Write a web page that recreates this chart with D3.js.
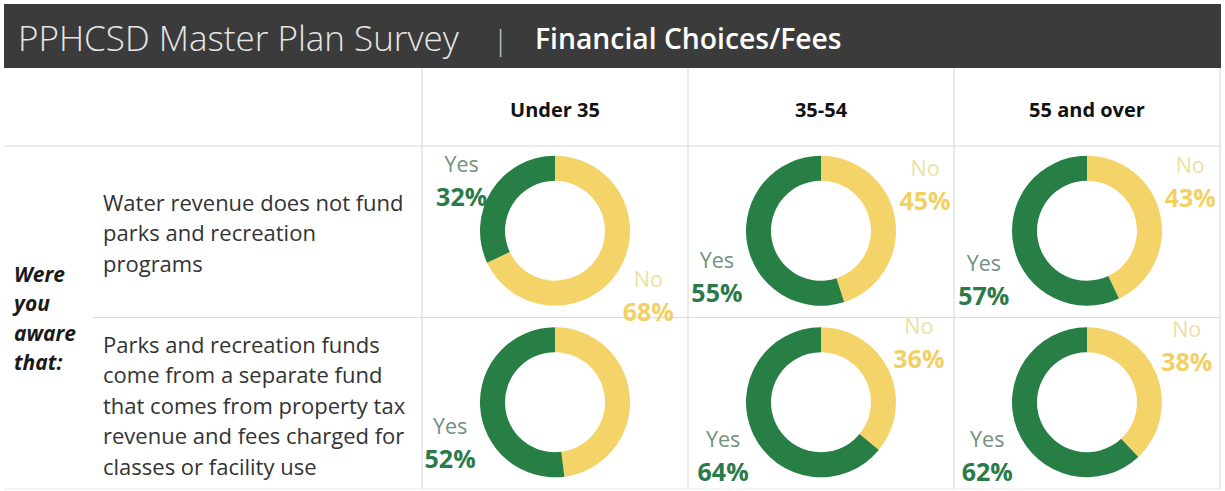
<!DOCTYPE html>
<html>
<head>
<meta charset="utf-8">
<script src="https://cdn.jsdelivr.net/npm/d3@7"></script>
<style>
  body { margin: 0; background: #fff; }
  svg { display: block; font-family: "Open Sans", "Noto Sans", sans-serif; }
</style>
</head>
<body>
<svg id="chart" width="1225" height="491"></svg>
<script>
// ---- data ----
const title = "PPHCSD Master Plan Survey";
const subtitle = "Financial Choices/Fees";
const ageGroups = ["Under 35", "35-54", "55 and over"];
const statements = ["water", "funds"];
const statementLines = [
  ["Water revenue does not fund", "parks and recreation", "programs"],
  ["Parks and recreation funds", "come from a separate fund", "that comes from property tax", "revenue and fees charged for", "classes or facility use"]
];
const questionLines = ["Were", "you", "aware", "that:"];
const answers = ["No", "Yes"];
const yesShare = [[32, 55, 57], [52, 64, 62]];
const noShare  = [[68, 45, 43], [48, 36, 38]];

// ---- layout ----
const frame = { left: 4, right: 1220, top: 4, bar: 68, head: 146, bottom: 489 };
const svg = d3.select("#chart");

const x = d3.scaleBand().domain(ageGroups).range([422, frame.right]);
const y = d3.scaleBand().domain(statements).range([frame.head, frame.bottom]);
const color = d3.scaleOrdinal(answers, ["#f4d369", "#277f46"]);
const textColor = d3.scaleOrdinal(answers, ["#ece0a6", "#72917c"]);
const pctColor = d3.scaleOrdinal(answers, ["#f1d064", "#2b7a4a"]);

const outerR = 75, innerR = 50;
const pie = d3.pie().sort(null).value(d => d.value);
const arc = d3.arc().innerRadius(innerR).outerRadius(outerR);

// title bar
svg.append("rect")
  .attr("x", frame.left).attr("y", frame.top)
  .attr("width", frame.right - frame.left + 1).attr("height", frame.bar - frame.top)
  .attr("fill", "#3b3b3b");
svg.append("text")
  .attr("x", 18).attr("y", 51)
  .attr("font-size", 35).attr("font-weight", 300)
  .attr("fill", "#e6e6e6")
  .text(title);
svg.append("text")
  .attr("x", 493).attr("y", 50)
  .attr("font-size", 28).attr("font-weight", 300)
  .attr("fill", "#cfcfcf")
  .text("|");
svg.append("text")
  .attr("x", 535).attr("y", 49)
  .attr("font-size", 28.3).attr("font-weight", 600)
  .attr("fill", "#ffffff")
  .text(subtitle);

// grid lines
const grid = svg.append("g").attr("stroke", "#dcdcdc").attr("stroke-width", 1.2);
ageGroups.forEach(g => {
  grid.append("line")
    .attr("x1", x(g)).attr("x2", x(g))
    .attr("y1", frame.bar).attr("y2", frame.bottom);
});
grid.append("line")
  .attr("x1", frame.right).attr("x2", frame.right)
  .attr("y1", frame.bar).attr("y2", frame.bottom);
grid.append("line")
  .attr("x1", frame.left).attr("x2", frame.right)
  .attr("y1", frame.head).attr("y2", frame.head);
grid.append("line")
  .attr("x1", 93).attr("x2", frame.right)
  .attr("y1", y(statements[1])).attr("y2", y(statements[1]));
grid.append("line")
  .attr("x1", frame.left).attr("x2", frame.right)
  .attr("y1", frame.bottom).attr("y2", frame.bottom)
  .attr("stroke", "#ececec");

// column headers
svg.append("g").selectAll("text")
  .data(ageGroups)
  .join("text")
  .attr("x", d => x(d) + x.bandwidth() / 2)
  .attr("y", 117)
  .attr("text-anchor", "middle")
  .attr("font-size", 20).attr("font-weight", 700)
  .attr("fill", "#111")
  .text(d => d);

// row question
svg.append("text")
  .attr("font-size", 21).attr("font-weight", 700).attr("font-style", "italic")
  .attr("fill", "#1a1a1a")
  .selectAll("tspan")
  .data(questionLines)
  .join("tspan")
  .attr("x", 14)
  .attr("y", (d, i) => 282 + i * 29.3)
  .text(d => d);

// statement labels
statements.forEach((s, si) => {
  const lines = statementLines[si];
  const lh = 30.6;
  const mid = y(s) + y.bandwidth() / 2 + (si === 0 ? 2 : 3);
  const first = mid - (lines.length - 1) * lh / 2;
  svg.append("text")
    .attr("font-size", 22)
    .attr("fill", "#333")
    .selectAll("tspan")
    .data(lines)
    .join("tspan")
    .attr("x", 103)
    .attr("y", (d, i) => first + i * lh + 7.5)
    .text(d => d);
});

// donuts
const placed = [];
function overlaps(b) {
  return placed.some(p => !(b.x1 < p.x0 || b.x0 > p.x1 || b.y1 < p.y0 || b.y0 > p.y1));
}

statements.forEach((s, si) => {
  ageGroups.forEach((g, gi) => {
    const cx = x(g) + x.bandwidth() / 2;
    const cy = y(s) + y.bandwidth() / 2 - 1;
    const slices = pie([
      { answer: "No", value: noShare[si][gi] },
      { answer: "Yes", value: yesShare[si][gi] }
    ]);
    const cell = svg.append("g").attr("transform", `translate(${cx},${cy})`);
    cell.selectAll("path")
      .data(slices)
      .join("path")
      .attr("d", arc)
      .attr("fill", d => color(d.data.answer));

    // labels sit just outside the ring, toward each slice's middle,
    // kept below the header and above the bottom edge;
    // a label that would collide with one already drawn is dropped
    slices.slice().reverse().forEach(d => {
      const a = (d.startAngle + d.endAngle) / 2;
      const sx = Math.sin(a), sy = -Math.cos(a);
      const lx = cx + sx * outerR + Math.sign(sx) * 30;
      let ly = cy + Math.sign(sy) * (38 + 50 * Math.abs(sy));
      ly = Math.max(frame.head + 35, Math.min(ly, frame.bottom - 33));
      const box = { x0: lx - 28, x1: lx + 28, y0: ly - 38, y1: ly + 38 };
      if (overlaps(box)) return;
      placed.push(box);
      const t = svg.append("g");
      t.append("text")
        .attr("x", lx).attr("y", ly - 9)
        .attr("text-anchor", "middle")
        .attr("font-size", 21.5)
        .attr("fill", textColor(d.data.answer))
        .text(d.data.answer);
      t.append("text")
        .attr("x", lx).attr("y", ly + 25)
        .attr("text-anchor", "middle")
        .attr("font-size", 25).attr("font-weight", 700)
        .attr("fill", pctColor(d.data.answer))
        .text(d.data.value + "%");
    });
  });
});
</script>
</body>
</html>
